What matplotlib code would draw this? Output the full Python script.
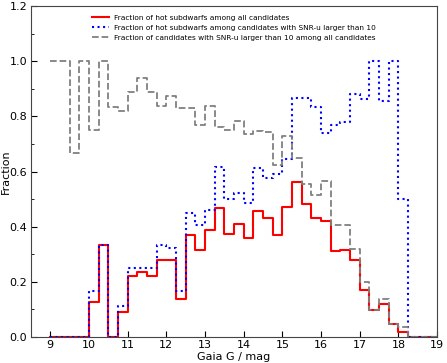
import numpy as np
import matplotlib
matplotlib.use("Agg")
import matplotlib.pyplot as plt
from matplotlib.ticker import MultipleLocator

# bin edges in Gaia G, 0.25 mag wide
edges = np.arange(9.0, 19.0 + 0.001, 0.25)

# fraction of hot subdwarfs among all candidates
frac_all = [0, 0, 0, 0,
            0.125, 0.333, 0, 0.091, 0.222, 0.235, 0.222, 0.28, 0.28, 0.136,
            0.37, 0.316, 0.387, 0.467, 0.375, 0.41, 0.358, 0.457, 0.43, 0.368,
            0.47, 0.562, 0.482, 0.43, 0.42, 0.31, 0.316, 0.28, 0.17, 0.097,
            0.119, 0.046, 0.019,
            0, 0, 0]

# fraction of hot subdwarfs among candidates with SNR-u > 10
frac_snr = [0, 0, 0, 0,
            0.167, 0.333, 0, 0.111, 0.25, 0.25, 0.25, 0.333, 0.322, 0.167,
            0.45, 0.406, 0.462, 0.615, 0.5, 0.523, 0.486, 0.611, 0.575, 0.59,
            0.647, 0.867, 0.867, 0.835, 0.74, 0.77, 0.778, 0.882, 0.864, 1.0,
            0.857, 1.0, 0.5,
            0, 0, 0]

# fraction of candidates with SNR-u > 10 among all candidates
frac_cand = [1, 1, 0.667, 1, 0.75, 1, 0.833, 0.818, 0.889, 0.941,
             0.889, 0.838, 0.875, 0.829, 0.829, 0.77, 0.838, 0.76, 0.75, 0.783,
             0.737, 0.746, 0.745, 0.623, 0.728, 0.648, 0.556, 0.513, 0.567, 0.405,
             0.405, 0.319, 0.198, 0.097, 0.138, 0.048, 0.036, 0, 0, 0]


def stepped(vals):
    return np.append(vals, vals[-1])


fig = plt.figure(figsize=(4.47, 3.63), dpi=100)
ax = fig.add_axes([0.069, 0.072, 0.909, 0.911])

ax.step(edges, stepped(frac_all), where='post', color='red', lw=1.5,
        label='Fraction of hot subdwarfs among all candidates')
ax.step(edges, stepped(frac_snr), where='post', color='blue', lw=1.5, ls=':',
        label='Fraction of hot subdwarfs among candidates with SNR-u larger than 10')
ax.step(edges, stepped(frac_cand), where='post', color='gray', lw=1.3, ls='--',
        label='Fraction of candidates with SNR-u larger than 10 among all candidates')

ax.set_xlim(8.5, 19)
ax.set_ylim(0, 1.2)
ax.xaxis.set_major_locator(MultipleLocator(1))
ax.yaxis.set_major_locator(MultipleLocator(0.2))
ax.yaxis.set_minor_locator(MultipleLocator(0.1))
ax.tick_params(direction='in', labelsize=8, length=4, pad=2.5)
ax.tick_params(which='minor', direction='in', length=2)
for s in ax.spines.values():
    s.set_color('#444444')

ax.set_xlabel('Gaia G / mag', fontsize=8, labelpad=1)
ax.set_ylabel('Fraction', fontsize=8)
ax.yaxis.set_label_coords(-0.05, 0.5)

ax.legend(loc='upper center', frameon=False, fontsize=5.3, handlelength=2.2,
          handletextpad=0.7, labelspacing=0.5, borderaxespad=0.77)

fig.savefig('out.png', dpi=100)
